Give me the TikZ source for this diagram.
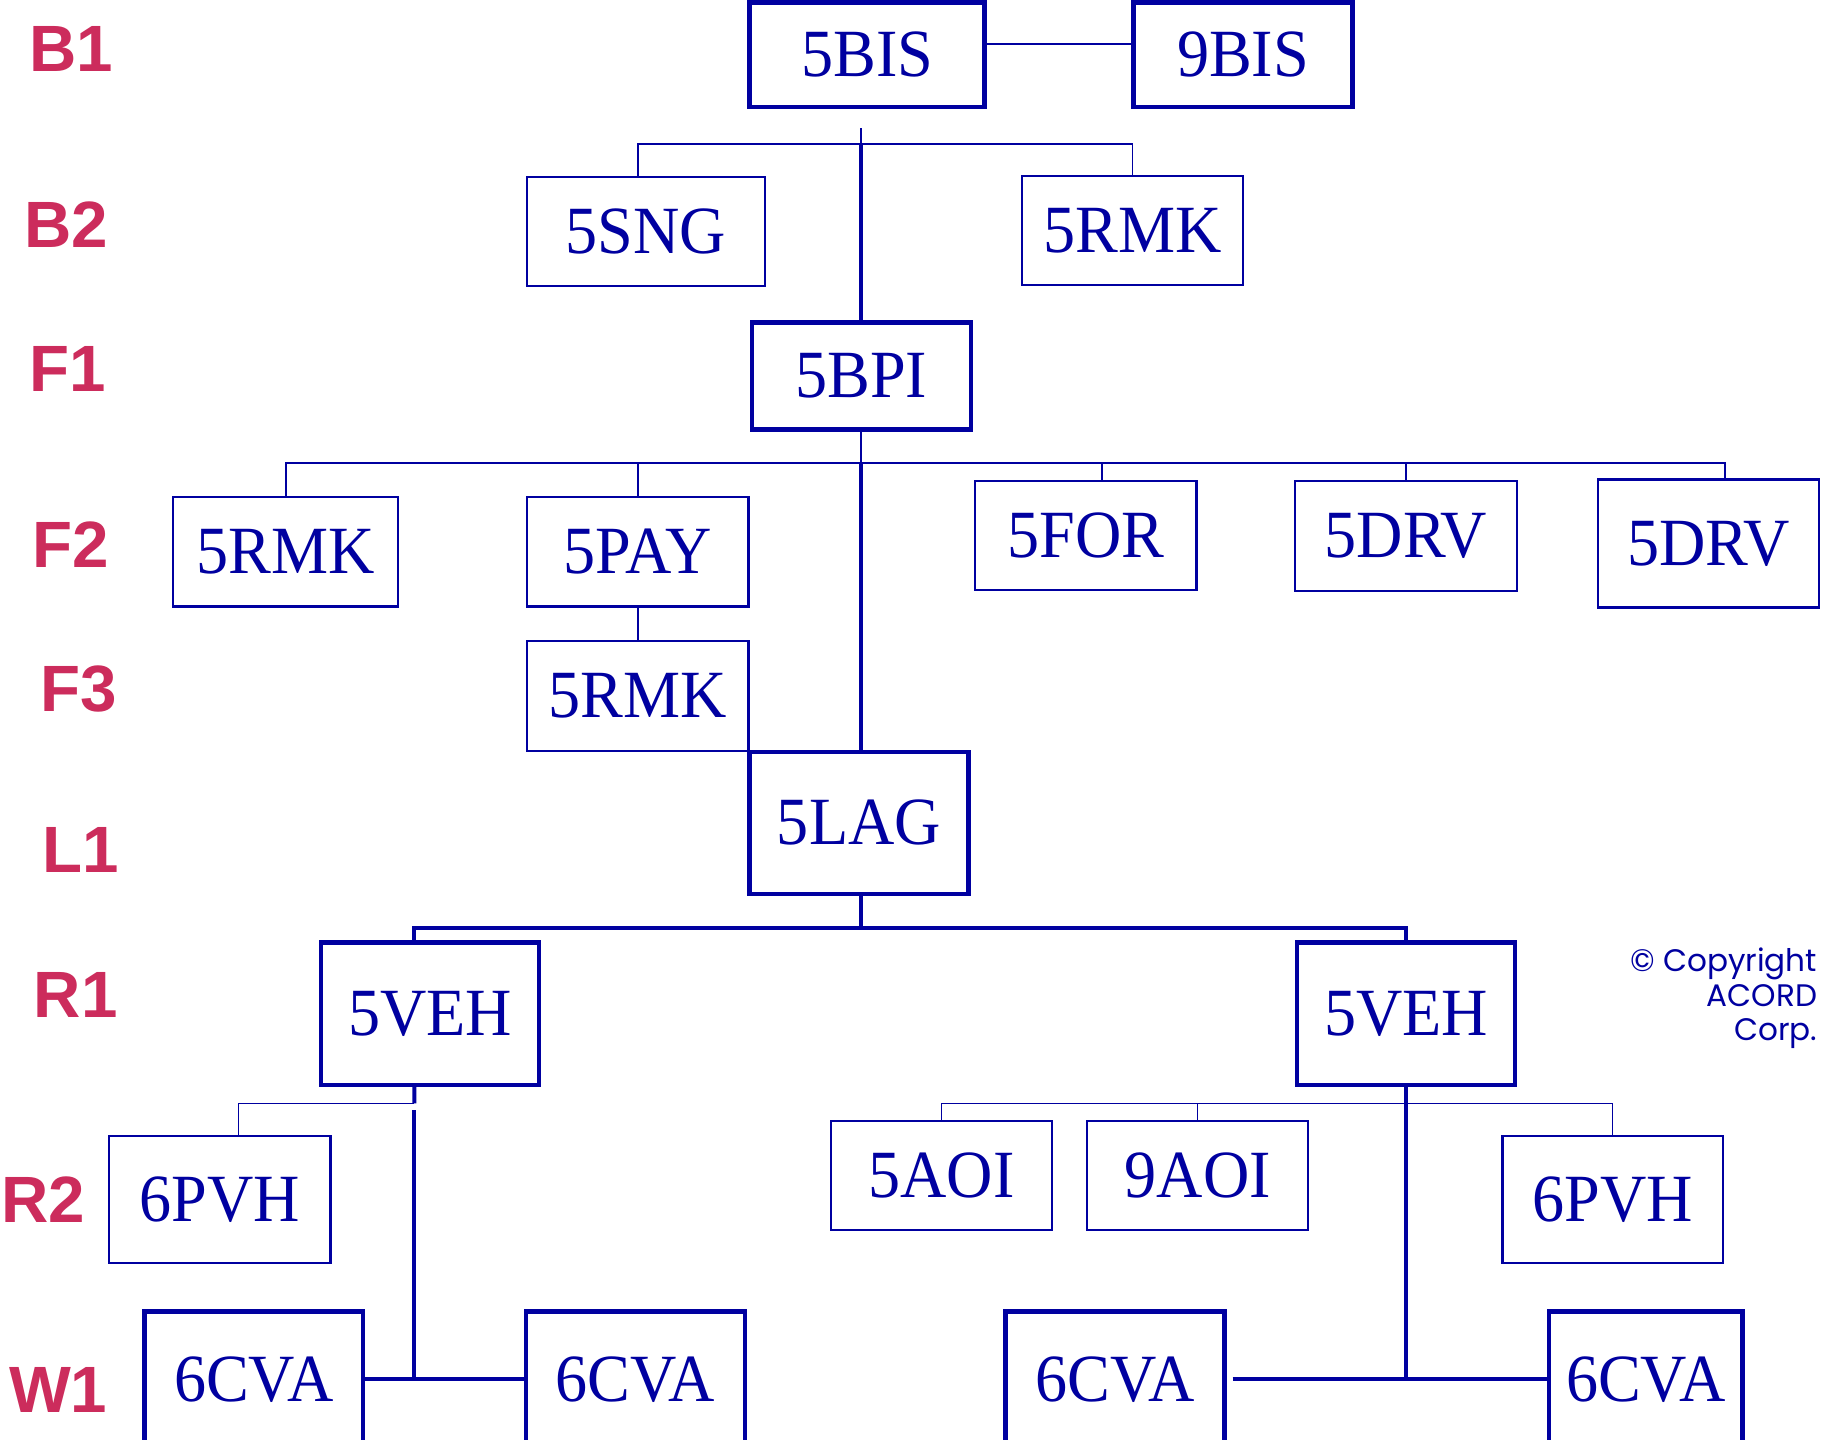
\documentclass[tikz,border=0pt]{standalone}
\usepackage{fontspec}
\setmainfont{Liberation Serif}[FakeStretch=0.95]
\newfontfamily\levelfont{Liberation Sans}
\newfontfamily\notefont{Poppins}
\usepackage{xcolor,tikz}
\usetikzlibrary{calc,positioning}
\definecolor{acordblue}{RGB}{0,0,160}
\definecolor{levelred}{RGB}{204,44,92}
\tikzset{
  recbox/.style={draw=acordblue,text=acordblue,minimum width=1.9cm,minimum height=0.94cm,inner sep=0pt,font=\fontsize{16.5}{18}\selectfont},
  thinbox/.style={recbox,line width=0.55pt},
  thickbox/.style={recbox,line width=1.1pt},
  thinline/.style={draw=acordblue,line width=0.4pt},
  thickline/.style={draw=acordblue,line width=1pt},
  rowlabel/.style={text=levelred,inner sep=0pt,font=\levelfont\bfseries\fontsize{16}{18}\selectfont}
}

\begin{document}
\begin{tikzpicture}[x=0.01cm,y=-0.01cm]
\useasboundingbox (0,0) rectangle (1568,1237);
% row labels
\node[rowlabel] (lvB1) at (61,42) {B1};
\node[rowlabel] (lvB2) at (57,193) {B2};
\node[rowlabel] (lvF1) at (58,317) {F1};
\node[rowlabel] (lvF2) at (61,468) {F2};
\node[rowlabel] (lvF3) at (68,592) {F3};
\node[rowlabel] (lvL1) at (69,730) {L1};
\node[rowlabel] (lvR1) at (65,855) {R1};
\node[rowlabel] (lvR2) at (37,1031) {R2};
\node[rowlabel] (lvW1) at (50,1194) {W1};
% records
\node[thickbox,minimum width=2.02cm,minimum height=0.9cm] (bis) at (745,47) {5BIS};
\node[thickbox,minimum width=1.88cm,minimum height=0.9cm] (bisnine) at (1068,47) {9BIS};
\node[thinbox,minimum width=2.04cm] (sng) at (555,199) {5SNG};
\node[thinbox] (rmkB) at (973,198) {5RMK};
\node[thickbox,minimum width=1.88cm,minimum height=0.92cm] (bpi) at (740,323) {5BPI};
\node[thinbox,minimum width=1.93cm] (rmkF) at (245.5,474) {5RMK};
\node[thinbox] (pay) at (548,474) {5PAY};
\node[thinbox] (fori) at (933,460) {5FOR};
\node[thinbox,minimum height=0.95cm] (drvA) at (1208,460.5) {5DRV};
\node[thinbox,minimum height=1.1cm] (drvB) at (1468,467) {5DRV};
\node[thinbox] (rmkG) at (548,598) {5RMK};
\node[thickbox,minimum width=1.88cm,minimum height=1.22cm] (lag) at (738,707) {5LAG};
\node[thickbox,minimum width=1.87cm,minimum height=1.22cm] (vehL) at (369.5,871) {5VEH};
\node[thickbox,minimum width=1.87cm,minimum height=1.22cm] (vehR) at (1208,871) {5VEH};
\node[thinbox,minimum height=1.09cm] (pvhL) at (189,1030.5) {6PVH};
\node[thinbox] (aoi) at (809,1010) {5AOI};
\node[thinbox] (aoinine) at (1029,1010) {9AOI};
\node[thinbox,minimum width=1.89cm,minimum height=1.09cm] (pvhR) at (1385.5,1030.5) {6PVH};
\node[thickbox,minimum width=1.88cm,minimum height=1.16cm] (cvaA) at (218,1185) {6CVA};
\node[thickbox,minimum width=1.88cm,minimum height=1.16cm] (cvaB) at (546,1185) {6CVA};
\node[thickbox,minimum width=1.88cm,minimum height=1.16cm] (cvaC) at (958,1185) {6CVA};
\node[thickbox,minimum width=1.66cm,minimum height=1.16cm] (cvaD) at (1414,1185) {6CVA};
% B1 and B2
\draw[thinline] ([yshift=0.09cm]bis.east) -- ([yshift=0.09cm]bisnine.west);
\coordinate (bustop) at (740,110);
\coordinate (busB) at (740,124);
\draw[thinline] (bustop) -- (busB);
\draw[thinline] ([xshift=-0.07cm]sng.north) |- (busB) -| (rmkB.north);
\draw[thickline] (busB) -- (bpi.north);
% F2 and F3
\coordinate (busF) at (740,398);
\draw[thinline] (bpi.south) -- (busF);
\draw[thinline] (rmkF.north) |- (busF) -| ([xshift=0.14cm]drvB.north);
\draw[thinline] (pay.north) -- (pay.north |- busF);
\draw[thinline] ([xshift=0.14cm]fori.north) |- (busF);
\draw[thinline] (drvA.north) |- (busF);
\draw[thickline] (busF) -- (busF |- lag.north);
\draw[thinline] (pay.south) -- (rmkG.north);
% R1
\coordinate (busR) at (740,797);
\draw[thickline] (busR |- lag.south) -- (busR);
\draw[thickline] ([xshift=-0.135cm]vehL.north) |- (busR) -| (vehR.north);
% R2 and W1, left
\coordinate (busRL) at (356,948);
\draw[thickline] ([xshift=-0.135cm]vehL.south) -- (busRL);
\draw[thinline] (busRL) -| ([xshift=0.16cm]pvhL.north);
\coordinate (busWL) at (356,954);
\draw[thickline] (busWL) -- (busWL |- cvaA.east);
\draw[thickline] (cvaA.east) -- (cvaB.west);
% R2 and W1, right
\coordinate (busRR) at (1208,948);
\draw[thinline] (aoi.north) |- (busRR) -| (pvhR.north);
\draw[thinline] (aoinine.north) -- (aoinine.north |- busRR);
\draw[thickline] (vehR.south) -- (vehR.south |- cvaC.east);
\draw[thickline] ([xshift=0.05cm]cvaC.east) -- (cvaD.west);
% copyright
\node[text=acordblue,font=\notefont\fontsize{7.6}{8.4}\selectfont,align=right,anchor=north east,inner sep=0pt] (note) at (1562,814) {\textcopyright{} Copyright\\ACORD\\Corp.};
\end{tikzpicture}
\end{document}
